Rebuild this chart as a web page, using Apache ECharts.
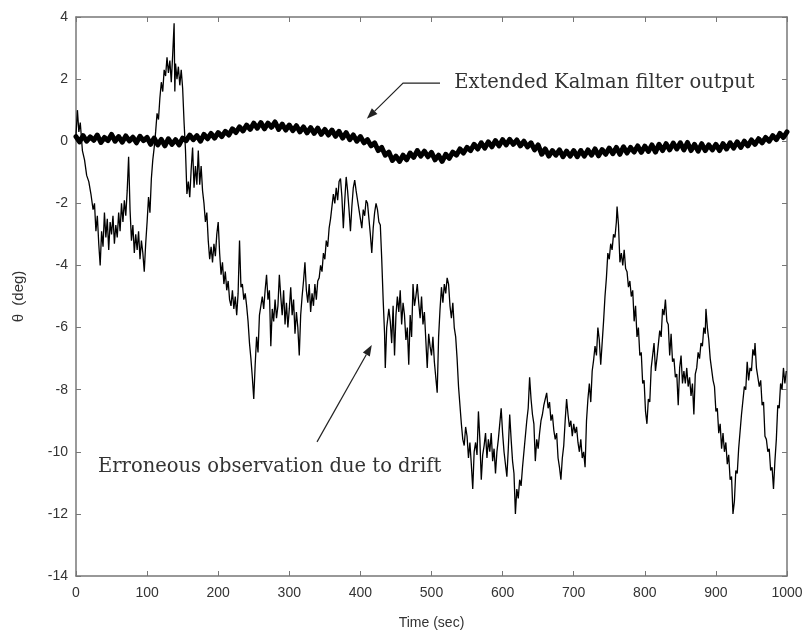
<!DOCTYPE html>
<html>
<head>
<meta charset="utf-8">
<title>Extended Kalman filter output vs drift</title>
<script src="https://cdn.jsdelivr.net/npm/echarts@6/dist/echarts.min.js"></script>
<style>
html, body { margin: 0; padding: 0; background: #fff; }
#chart1 { width: 810px; height: 642px; }
</style>
</head>
<body>
<div id="chart1"></div>
<script>
// axis ticks
const timeTicks = [0, 100, 200, 300, 400, 500, 600, 700, 800, 900, 1000];
const degTicks = [-14, -12, -10, -8, -6, -4, -2, 0, 2, 4];

// erroneous observation (thin line) [time sec, theta deg]
const observation = [
  [0, 0.2], [2, 1.0], [4, 0.3], [6, 0.6], [9, -0.3], [12, -0.6], [15, -1.1], [18, -1.3], [21, -1.7], [24, -2.2],
  [26, -2.0], [28, -2.9], [30, -2.4], [32, -3.3], [34, -4.0], [36, -2.9], [38, -3.4], [40, -2.3], [42, -3.1], [44, -2.5],
  [46, -3.5], [48, -2.6], [50, -3.0], [52, -2.4], [54, -3.3], [56, -2.7], [58, -3.1], [60, -2.3], [62, -2.9], [64, -2.0],
  [66, -2.6], [68, -1.9], [70, -2.4], [72, -1.6], [74, -0.5], [76, -2.2], [78, -3.2], [80, -2.7], [82, -3.6], [84, -3.0],
  [86, -3.5], [88, -2.9], [90, -3.8], [92, -3.2], [94, -3.6], [96, -4.2], [98, -3.3], [100, -2.6], [102, -1.8], [104, -2.3],
  [106, -1.2], [108, -0.6], [110, -0.2], [112, 0.3], [114, 0.9], [116, 0.7], [118, 1.4], [120, 1.9], [122, 1.6], [124, 2.3],
  [126, 2.1], [128, 2.7], [130, 2.2], [132, 2.6], [134, 1.9], [136, 2.8], [138, 3.8], [139, 1.6], [140, 2.5], [142, 2.0],
  [144, 2.4], [146, 1.8], [148, 2.3], [150, 1.7], [152, 0.6], [154, -0.3], [156, -1.7], [158, -1.3], [160, -1.8], [162, -0.9],
  [164, -0.2], [166, -1.5], [168, -0.8], [170, -1.4], [172, -0.3], [174, -1.4], [176, -0.8], [178, -1.6], [180, -2.0], [182, -2.6],
  [184, -2.3], [186, -3.2], [188, -3.8], [190, -3.4], [192, -3.9], [194, -3.3], [196, -3.7], [198, -3.0], [200, -2.6], [202, -3.6],
  [204, -4.3], [206, -3.9], [208, -4.6], [210, -4.2], [212, -4.8], [214, -4.5], [216, -5.1], [218, -5.3], [220, -4.8], [222, -5.4],
  [224, -5.0], [226, -5.6], [228, -4.9], [230, -3.2], [232, -4.7], [234, -4.6], [236, -5.1], [238, -4.9], [240, -5.3], [242, -5.8],
  [244, -6.5], [246, -7.0], [248, -7.6], [250, -8.3], [252, -7.2], [254, -6.3], [256, -6.8], [258, -5.6], [260, -5.3], [262, -5.0],
  [264, -5.4], [266, -4.8], [268, -4.3], [270, -5.1], [272, -4.8], [274, -6.6], [276, -5.4], [278, -5.8], [280, -5.1], [282, -5.7],
  [284, -5.3], [286, -4.3], [288, -5.0], [290, -5.6], [292, -4.8], [294, -5.9], [296, -5.2], [298, -6.0], [300, -5.4], [302, -4.7],
  [304, -5.6], [306, -5.1], [308, -6.2], [310, -5.5], [312, -6.0], [314, -6.9], [316, -5.6], [318, -5.0], [320, -4.5], [322, -3.9],
  [324, -4.8], [326, -5.2], [328, -4.6], [330, -5.5], [332, -4.9], [334, -5.3], [336, -4.6], [338, -5.1], [340, -4.5], [342, -4.4],
  [344, -4.0], [346, -4.2], [348, -3.6], [350, -3.8], [352, -3.2], [354, -3.4], [356, -2.8], [358, -2.5], [360, -2.1], [362, -1.7],
  [364, -2.0], [366, -1.5], [368, -1.9], [370, -1.3], [372, -1.2], [374, -1.8], [376, -2.8], [378, -1.9], [380, -1.15], [382, -1.6],
  [384, -2.2], [386, -2.9], [388, -2.1], [390, -1.5], [392, -1.25], [394, -1.6], [396, -1.9], [398, -2.2], [400, -2.5], [402, -2.8],
  [404, -2.2], [406, -2.4], [408, -1.9], [410, -2.0], [412, -2.5], [414, -3.0], [416, -3.6], [418, -2.8], [420, -2.3], [422, -2.0],
  [424, -2.2], [426, -2.6], [428, -2.7], [430, -3.8], [432, -5.1], [434, -6.2], [435, -7.3], [437, -6.0], [440, -5.4], [442, -5.8],
  [444, -6.5], [446, -5.3], [448, -6.9], [450, -5.6], [452, -5.0], [454, -5.5], [456, -4.8], [458, -5.9], [460, -5.2], [462, -5.6],
  [464, -6.4], [466, -6.0], [468, -7.2], [470, -5.6], [472, -6.3], [474, -4.6], [476, -5.3], [478, -5.0], [480, -4.6], [482, -5.2],
  [484, -5.7], [486, -5.0], [488, -5.9], [490, -5.5], [492, -6.4], [494, -7.3], [496, -6.2], [498, -6.6], [500, -6.9], [502, -6.3],
  [504, -7.1], [506, -7.6], [508, -8.1], [510, -6.3], [512, -5.4], [514, -4.7], [516, -5.2], [518, -4.6], [520, -4.9], [522, -4.4],
  [524, -4.6], [526, -5.3], [528, -5.7], [530, -5.2], [532, -6.0], [534, -6.3], [536, -7.0], [538, -7.9], [540, -8.5], [542, -9.1],
  [544, -9.6], [546, -9.8], [548, -9.2], [550, -9.5], [552, -10.2], [554, -9.7], [556, -10.4], [558, -11.2], [560, -10.0], [562, -9.7],
  [564, -10.1], [566, -8.7], [568, -9.6], [570, -10.9], [572, -10.1], [574, -9.8], [576, -9.4], [578, -10.2], [580, -9.6], [582, -10.0],
  [584, -9.4], [586, -10.3], [588, -9.9], [590, -10.7], [592, -10.0], [594, -9.6], [596, -9.1], [598, -8.6], [600, -9.4], [602, -10.0],
  [604, -10.4], [606, -10.8], [608, -9.9], [610, -8.8], [612, -9.6], [614, -10.3], [616, -10.7], [618, -12.0], [620, -11.2], [622, -11.5],
  [624, -10.9], [626, -11.1], [628, -10.5], [630, -10.0], [632, -9.5], [634, -9.0], [636, -8.6], [638, -7.6], [640, -8.3], [642, -8.8],
  [644, -9.1], [646, -10.3], [648, -9.6], [650, -9.9], [652, -9.4], [654, -9.0], [656, -8.8], [658, -8.5], [660, -8.3], [662, -8.1],
  [664, -8.6], [666, -8.4], [668, -9.0], [670, -8.8], [672, -9.3], [674, -9.6], [676, -9.4], [678, -10.2], [680, -10.5], [682, -10.9],
  [684, -10.2], [686, -9.8], [688, -9.0], [690, -8.3], [692, -8.8], [694, -9.2], [696, -9.0], [698, -9.5], [700, -9.1], [702, -9.4],
  [704, -9.2], [706, -9.7], [708, -10.0], [710, -9.6], [712, -10.2], [714, -10.0], [716, -10.5], [718, -9.0], [720, -8.3], [722, -7.8],
  [724, -8.4], [726, -7.4], [728, -7.05], [730, -6.6], [732, -6.9], [734, -6.0], [736, -6.4], [738, -7.2], [740, -6.5], [742, -5.8],
  [744, -5.0], [746, -4.4], [748, -3.6], [750, -3.8], [752, -3.3], [754, -3.5], [756, -3.0], [758, -3.1], [760, -2.6], [761, -2.1],
  [763, -2.7], [765, -3.9], [767, -3.6], [769, -4.0], [771, -3.5], [773, -4.1], [775, -4.2], [777, -4.7], [779, -4.5], [781, -5.0],
  [783, -4.8], [785, -5.8], [787, -5.3], [789, -6.3], [791, -6.0], [793, -6.9], [795, -6.8], [797, -7.8], [799, -7.7], [801, -8.7],
  [803, -9.1], [805, -8.3], [807, -8.4], [809, -7.3], [811, -7.3], [813, -6.5], [815, -7.4], [817, -7.0], [819, -7.0], [821, -6.1],
  [823, -6.3], [825, -5.4], [827, -5.6], [829, -5.1], [831, -5.8], [833, -5.9], [835, -6.9], [837, -6.2], [839, -7.1], [841, -7.0],
  [843, -7.6], [845, -7.5], [847, -8.5], [849, -7.3], [851, -6.9], [853, -7.8], [855, -7.4], [857, -7.8], [859, -7.3], [861, -7.9],
  [863, -7.6], [865, -8.2], [867, -7.8], [869, -8.8], [871, -7.5], [873, -7.3], [875, -6.8], [877, -7.0], [879, -6.5], [881, -6.6],
  [883, -6.0], [885, -6.2], [886, -5.4], [888, -6.0], [890, -6.4], [892, -7.0], [894, -7.0], [896, -7.7], [898, -7.9], [900, -8.7],
  [902, -8.6], [904, -9.4], [906, -9.1], [908, -9.9], [910, -9.4], [912, -10.0], [914, -9.7], [916, -10.4], [918, -10.1], [920, -10.9],
  [922, -10.8], [924, -12.0], [926, -11.6], [928, -10.6], [930, -10.7], [932, -9.9], [934, -9.9], [936, -8.8], [938, -8.8], [940, -7.9],
  [942, -8.0], [944, -7.1], [946, -7.7], [948, -7.3], [950, -7.4], [952, -6.7], [954, -6.9], [955, -6.5], [957, -7.3], [959, -7.6],
  [961, -7.9], [963, -7.7], [965, -8.5], [967, -8.4], [969, -9.5], [971, -9.6], [973, -10.0], [975, -9.9], [977, -10.6], [979, -10.5],
  [981, -11.2], [983, -10.3], [985, -9.6], [987, -8.5], [989, -8.6], [991, -7.8], [993, -8.0], [995, -7.3], [997, -7.8], [999, -7.4]
];

// extended Kalman filter output (thick line), one value every 5 sec from 0 to 1000
const ekfStep = 5;
const ekfDeg = [
  0.15, -0.02, 0.18, 0.0, 0.14, 0.03, 0.2, -0.04, 0.12, 0.02, 0.22, 0.0, 0.15, -0.03, 0.17, 0.01, 0.13, -0.05, 0.16, 0.02, 0.12,
  -0.1, 0.1, -0.12, 0.06, -0.15, 0.08, -0.1, 0.05, -0.12, 0.1,
  0.02, 0.2, 0.05, 0.18, 0.0, 0.22, 0.08, 0.25, 0.1, 0.28,
  0.15, 0.32, 0.2, 0.4, 0.28, 0.46, 0.33, 0.52, 0.38, 0.58,
  0.42, 0.6, 0.4, 0.58, 0.45, 0.62, 0.38, 0.55, 0.36, 0.52,
  0.34, 0.5, 0.3, 0.46, 0.27, 0.44, 0.25, 0.42, 0.22, 0.38,
  0.2, 0.36, 0.16, 0.32, 0.1, 0.28, 0.05, 0.2, 0.0, 0.15,
  -0.05, 0.05, -0.15, -0.05, -0.3, -0.2, -0.45, -0.35, -0.62, -0.48,
  -0.65, -0.45, -0.6, -0.38, -0.52, -0.3, -0.48, -0.32, -0.5, -0.36,
  -0.6, -0.45, -0.65, -0.42, -0.55, -0.35, -0.45, -0.25, -0.38, -0.2,
  -0.3, -0.1, -0.25, -0.05, -0.22, -0.02, -0.18, 0.02, -0.15, 0.05,
  -0.12, 0.06, -0.1, 0.04, -0.15, 0.0, -0.18, -0.05, -0.28, -0.12,
  -0.42, -0.25, -0.48, -0.3, -0.45, -0.28, -0.5, -0.32, -0.48, -0.3,
  -0.5, -0.3, -0.48, -0.28, -0.45, -0.25, -0.47, -0.27, -0.42, -0.22,
  -0.4, -0.2, -0.42, -0.18, -0.38, -0.2, -0.35, -0.15, -0.36, -0.16,
  -0.33, -0.12, -0.35, -0.1, -0.3, -0.08, -0.28, -0.06, -0.25, -0.05,
  -0.28, -0.04, -0.3, -0.1, -0.32, -0.08, -0.3, -0.12, -0.28, -0.1,
  -0.3, -0.08, -0.25, -0.05, -0.22, -0.02, -0.2, 0.0, -0.15, 0.04,
  -0.1, 0.08, -0.05, 0.12, 0.0, 0.18, 0.05, 0.25, 0.12, 0.3
];

// annotation texts and arrow paths, in data coordinates [time, deg]
const ekfLabel = 'Extended Kalman filter output';
const ekfLabelAt = [532, 1.87];
const ekfArrow = [[512, 1.87], [460, 1.87], [409, 0.72]];
const obsLabel = 'Erroneous observation due to drift';
const obsLabelAt = [31, -10.49];
const obsArrow = [[339, -9.68], [416, -6.56]];

function initChart() {
  const chart = echarts.init(document.getElementById('chart1'), null, { renderer: 'canvas' });

  const axisLine = { show: true, onZero: false, lineStyle: { color: '#777', width: 1.5 } };
  const axisTick = { show: true, inside: true, length: 5, lineStyle: { color: '#777', width: 1 } };
  const labelStyle = { color: '#333', fontSize: 14, fontFamily: 'Liberation Sans' };

  const xBase = {
    type: 'value',
    min: timeTicks[0],
    max: timeTicks[timeTicks.length - 1],
    interval: timeTicks[1] - timeTicks[0],
    axisLine: axisLine,
    axisTick: axisTick,
    splitLine: { show: false }
  };
  const yBase = {
    type: 'value',
    min: degTicks[0],
    max: degTicks[degTicks.length - 1],
    interval: degTicks[1] - degTicks[0],
    axisLine: axisLine,
    axisTick: axisTick,
    splitLine: { show: false }
  };

  const option = {
    animation: false,
    backgroundColor: '#fff',
    grid: { left: 76, right: 23, top: 17, bottom: 66 },
    xAxis: [
      Object.assign({}, xBase, {
        position: 'bottom',
        name: 'Time (sec)',
        nameLocation: 'middle',
        nameGap: 40,
        nameTextStyle: labelStyle,
        axisLabel: Object.assign({ margin: 10, formatter: v => String(v) }, labelStyle)
      }),
      Object.assign({}, xBase, { position: 'top', axisLabel: { show: false } })
    ],
    yAxis: [
      Object.assign({}, yBase, {
        position: 'left',
        name: 'θ  (deg)',
        nameLocation: 'middle',
        nameGap: 50,
        nameTextStyle: Object.assign({}, labelStyle, { fontSize: 15 }),
        axisLabel: Object.assign({ margin: 8, formatter: v => String(v) }, labelStyle)
      }),
      Object.assign({}, yBase, { position: 'right', axisLabel: { show: false } })
    ],
    series: [
      {
        type: 'line',
        name: 'observation',
        data: observation,
        symbol: 'none',
        lineStyle: { color: '#000', width: 1.3 }
      },
      {
        type: 'line',
        name: 'ekf',
        data: ekfDeg.map((v, i) => [i * ekfStep, v]),
        symbol: 'none',
        lineStyle: { color: '#000', width: 5, join: 'round', cap: 'round' }
      }
    ]
  };

  chart.setOption(option);

  // annotations: place them from data coordinates
  const px = p => chart.convertToPixel({ xAxisIndex: 0, yAxisIndex: 0 }, p);

  function arrow(path) {
    const pts = path.map(px);
    const a = pts[pts.length - 2];
    const b = pts[pts.length - 1];
    const ang = Math.atan2(b[1] - a[1], b[0] - a[0]);
    const len = 11, half = 4;
    const bx = b[0] - len * Math.cos(ang), by = b[1] - len * Math.sin(ang);
    const head = [
      b,
      [bx + half * Math.sin(ang), by - half * Math.cos(ang)],
      [bx - half * Math.sin(ang), by + half * Math.cos(ang)]
    ];
    const shaft = pts.slice(0, -1).concat([[bx, by]]);
    return [
      { type: 'polyline', shape: { points: shaft }, style: { stroke: '#222', lineWidth: 1.2, fill: null } },
      { type: 'polygon', shape: { points: head }, style: { fill: '#222' } }
    ];
  }

  function label(text, at) {
    const p = px(at);
    return {
      type: 'text',
      x: p[0],
      y: p[1],
      style: {
        text: text,
        fill: '#333',
        fontSize: 19.5,
        fontFamily: 'DejaVu Serif',
        verticalAlign: 'middle',
        align: 'left'
      }
    };
  }

  chart.setOption({
    graphic: [
      label(ekfLabel, ekfLabelAt),
      label(obsLabel, obsLabelAt)
    ].concat(arrow(ekfArrow), arrow(obsArrow))
  });
}

window.addEventListener('load', initChart);
</script>
</body>
</html>
